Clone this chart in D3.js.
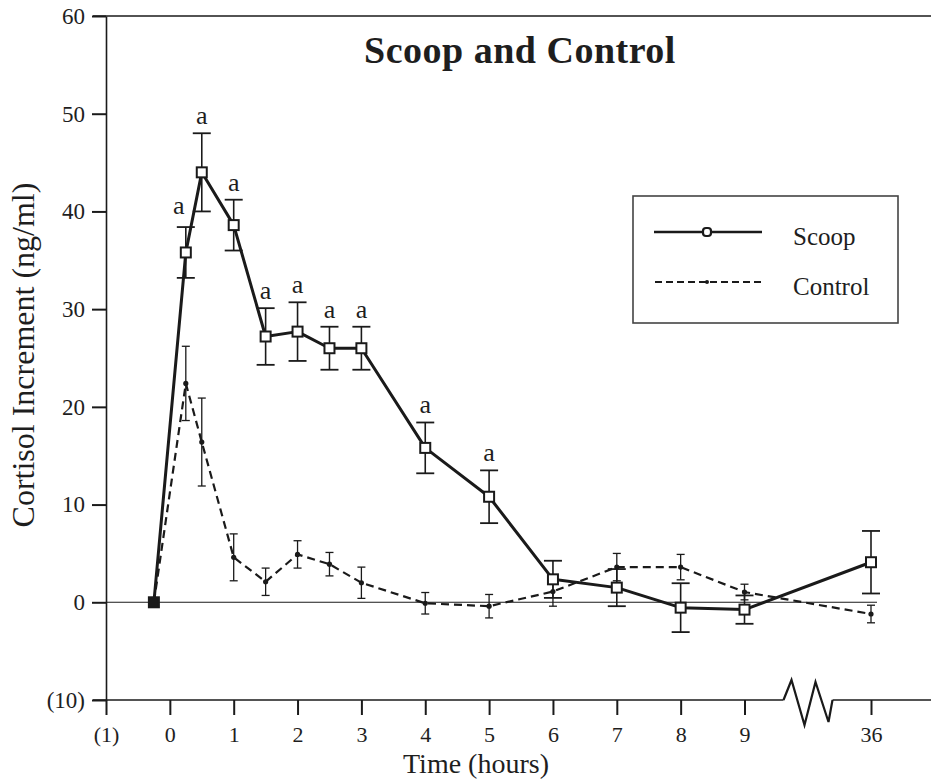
<!DOCTYPE html>
<html>
<head>
<meta charset="utf-8">
<script src="https://cdn.jsdelivr.net/npm/d3@7"></script>
<style>
  html, body { margin: 0; padding: 0; background: #fff; }
  svg { display: block; }
  text { font-family: "Liberation Serif", "Times New Roman", serif; fill: #1e1e1e; }
</style>
</head>
<body>
<svg id="chart" width="931" height="781"></svg>
<script>
// ---------- data ----------
const times = [-0.25, 0.25, 0.5, 1, 1.5, 2, 2.5, 3, 4, 5, 6, 7, 8, 9, 36];
const scoopMean = [0, 35.8, 44.0, 38.6, 27.2, 27.7, 26.0, 26.0, 15.8, 10.8, 2.35, 1.5, -0.55, -0.75, 4.1];
const scoopSE   = [0, 2.6, 4.0, 2.6, 2.9, 3.0, 2.2, 2.2, 2.6, 2.7, 1.9, 1.9, 2.5, 1.45, 3.2];
const controlMean = [0, 22.4, 16.4, 4.6, 2.1, 4.9, 3.9, 2.0, -0.1, -0.4, 1.1, 3.6, 3.6, 1.05, -1.2];
const controlSE   = [0, 3.8, 4.5, 2.4, 1.4, 1.4, 1.2, 1.6, 1.1, 1.2, 1.5, 1.4, 1.3, 0.8, 0.9];
const signifTimes = [0.25, 0.5, 1, 1.5, 2, 2.5, 3, 4, 5];
const xTickValues = [-1, 0, 1, 2, 3, 4, 5, 6, 7, 8, 9, 36];
const xTickLabels = ["(1)", "0", "1", "2", "3", "4", "5", "6", "7", "8", "9", "36"];
const yTickValues = [-10, 0, 10, 20, 30, 40, 50, 60];
const yTickLabels = ["(10)", "0", "10", "20", "30", "40", "50", "60"];
const seriesNames = ["Scoop", "Control"];
const titleText = "Scoop and Control";

// ---------- layout ----------
const svg = d3.select("#chart");
const ink = "#1a1a1a";
const x = d3.scaleLinear().domain([-1, 9, 36]).range([106, 744.5, 871]);
const y = d3.scaleLinear().domain([-10, 60]).range([700, 16]);
const scoop = times.map((t, i) => ({t, v: scoopMean[i], se: scoopSE[i], i}));
const control = times.map((t, i) => ({t, v: controlMean[i], se: controlSE[i], i}));

// frame lines (top and bottom extend to right edge)
svg.append("line").attr("x1", 93).attr("x2", 931).attr("y1", y(60)).attr("y2", y(60))
  .attr("stroke", ink).attr("stroke-width", 1.6);
const breakStart = x(9) + 39, breakEnd = x(9) + 88;
svg.append("line").attr("x1", 93).attr("x2", breakStart).attr("y1", y(-10)).attr("y2", y(-10))
  .attr("stroke", ink).attr("stroke-width", 1.6);
svg.append("line").attr("x1", breakEnd).attr("x2", 931).attr("y1", y(-10)).attr("y2", y(-10))
  .attr("stroke", ink).attr("stroke-width", 1.6);
// axis break zigzag
const zz = [[0,0],[8,-20],[21,25],[32,-18],[45,22],[49,0]];
svg.append("path")
  .attr("d", d3.line()(zz.map(p => [breakStart + p[0], y(-10) + p[1]])))
  .attr("fill", "none").attr("stroke", ink).attr("stroke-width", 2.2).attr("stroke-linejoin", "miter");

// zero line
svg.append("line").attr("x1", x(-1)).attr("x2", x(36) + 6).attr("y1", y(0)).attr("y2", y(0))
  .attr("stroke", ink).attr("stroke-width", 1.1);

// y axis
const yAxis = d3.axisLeft(y).tickValues(yTickValues)
  .tickFormat((d, i) => yTickLabels[i]).tickSize(14).tickSizeOuter(0).tickPadding(7);
const gy = svg.append("g").attr("transform", `translate(${x(-1)},0)`).call(yAxis);
gy.select(".domain").attr("stroke", ink).attr("stroke-width", 1.6);
gy.selectAll(".tick line").attr("stroke", ink).attr("stroke-width", 2);
gy.selectAll(".tick text").attr("font-size", 23).attr("font-family", "Liberation Serif, serif").attr("fill", "#222");

// x axis
const xAxis = d3.axisBottom(x).tickValues(xTickValues)
  .tickFormat((d, i) => xTickLabels[i]).tickSize(15).tickSizeOuter(0).tickPadding(11);
const gx = svg.append("g").attr("transform", `translate(0,${y(-10)})`).call(xAxis);
gx.select(".domain").remove();
gx.selectAll(".tick line").attr("stroke", ink).attr("stroke-width", 2);
gx.selectAll(".tick text").attr("font-size", 22).attr("font-family", "Liberation Serif, serif").attr("fill", "#222");

// axis titles
svg.append("text").attr("x", 476).attr("y", 773).attr("text-anchor", "middle")
  .attr("font-size", 28).text("Time (hours)");
svg.append("text").attr("transform", "translate(34,355) rotate(-90)").attr("text-anchor", "middle")
  .attr("font-size", 32).text("Cortisol Increment (ng/ml)");

// title
svg.append("text").attr("x", 520).attr("y", 63).attr("text-anchor", "middle")
  .attr("font-size", 38).attr("font-weight", "bold").attr("letter-spacing", 0.5).text(titleText);

// ---------- control series ----------
const gc = svg.append("g");
gc.append("path").datum(control)
  .attr("d", d3.line().x(d => x(d.t)).y(d => y(d.v)))
  .attr("fill", "none").attr("stroke", ink).attr("stroke-width", 2.2).attr("stroke-dasharray", "8,5");
const ce = gc.selectAll(".cerr").data(control.filter(d => d.se > 0)).join("g");
ce.append("line").attr("x1", d => x(d.t)).attr("x2", d => x(d.t))
  .attr("y1", d => y(d.v + d.se)).attr("y2", d => y(d.v - d.se)).attr("stroke", ink).attr("stroke-width", 1.3);
ce.append("line").attr("x1", d => x(d.t) - 4).attr("x2", d => x(d.t) + 4)
  .attr("y1", d => y(d.v + d.se)).attr("y2", d => y(d.v + d.se)).attr("stroke", ink).attr("stroke-width", 1.3);
ce.append("line").attr("x1", d => x(d.t) - 4).attr("x2", d => x(d.t) + 4)
  .attr("y1", d => y(d.v - d.se)).attr("y2", d => y(d.v - d.se)).attr("stroke", ink).attr("stroke-width", 1.3);

// ---------- scoop series ----------
const gs = svg.append("g");
gs.append("path").datum(scoop)
  .attr("d", d3.line().x(d => x(d.t)).y(d => y(d.v)))
  .attr("fill", "none").attr("stroke", ink).attr("stroke-width", 3).attr("stroke-linejoin", "round");
const se = gs.selectAll(".serr").data(scoop.filter(d => d.se > 0)).join("g");
se.append("line").attr("x1", d => x(d.t)).attr("x2", d => x(d.t))
  .attr("y1", d => y(d.v + d.se)).attr("y2", d => y(d.v - d.se)).attr("stroke", ink).attr("stroke-width", 1.6);
se.append("line").attr("x1", d => x(d.t) - 9).attr("x2", d => x(d.t) + 9)
  .attr("y1", d => y(d.v + d.se)).attr("y2", d => y(d.v + d.se)).attr("stroke", ink).attr("stroke-width", 1.8);
se.append("line").attr("x1", d => x(d.t) - 9).attr("x2", d => x(d.t) + 9)
  .attr("y1", d => y(d.v - d.se)).attr("y2", d => y(d.v - d.se)).attr("stroke", ink).attr("stroke-width", 1.8);

// control markers (dots)
gc.selectAll(".cdot").data(control).join("circle")
  .attr("cx", d => x(d.t)).attr("cy", d => y(d.v)).attr("r", 2.6).attr("fill", ink);

// scoop markers (open squares; first overlapped point appears filled)
gs.selectAll(".sq").data(scoop).join("rect")
  .attr("x", d => x(d.t) - 5).attr("y", d => y(d.v) - 5).attr("width", 10).attr("height", 10)
  .attr("fill", d => d.i === 0 ? ink : "#fff").attr("stroke", ink).attr("stroke-width", 2);

// significance letters
const sig = scoop.filter(d => signifTimes.includes(d.t));
svg.selectAll(".sig").data(sig).join("text")
  .attr("x", d => x(d.t) + (d.i === 1 ? -7 : 0))
  .attr("y", d => y(d.v + d.se) - (d.i === 1 ? 13 : 9))
  .attr("text-anchor", "middle").attr("font-size", 26).text("a");

// ---------- legend ----------
const lg = svg.append("g");
lg.append("rect").attr("x", 633).attr("y", 196).attr("width", 265).attr("height", 127)
  .attr("fill", "#fff").attr("stroke", "#444").attr("stroke-width", 1.6);
lg.append("line").attr("x1", 654).attr("x2", 762).attr("y1", 232).attr("y2", 232)
  .attr("stroke", ink).attr("stroke-width", 2.6);
lg.append("rect").attr("x", 703).attr("y", 228).attr("width", 8).attr("height", 8).attr("rx", 3)
  .attr("fill", "#fff").attr("stroke", ink).attr("stroke-width", 2.2);
lg.append("line").attr("x1", 655).attr("x2", 762).attr("y1", 282).attr("y2", 282)
  .attr("stroke", ink).attr("stroke-width", 2.2).attr("stroke-dasharray", "7,4");
lg.append("circle").attr("cx", 707).attr("cy", 282).attr("r", 2).attr("fill", ink);
lg.append("text").attr("x", 793).attr("y", 245).attr("font-size", 25).text(seriesNames[0]);
lg.append("text").attr("x", 793).attr("y", 295).attr("font-size", 25).text(seriesNames[1]);
</script>
</body>
</html>
